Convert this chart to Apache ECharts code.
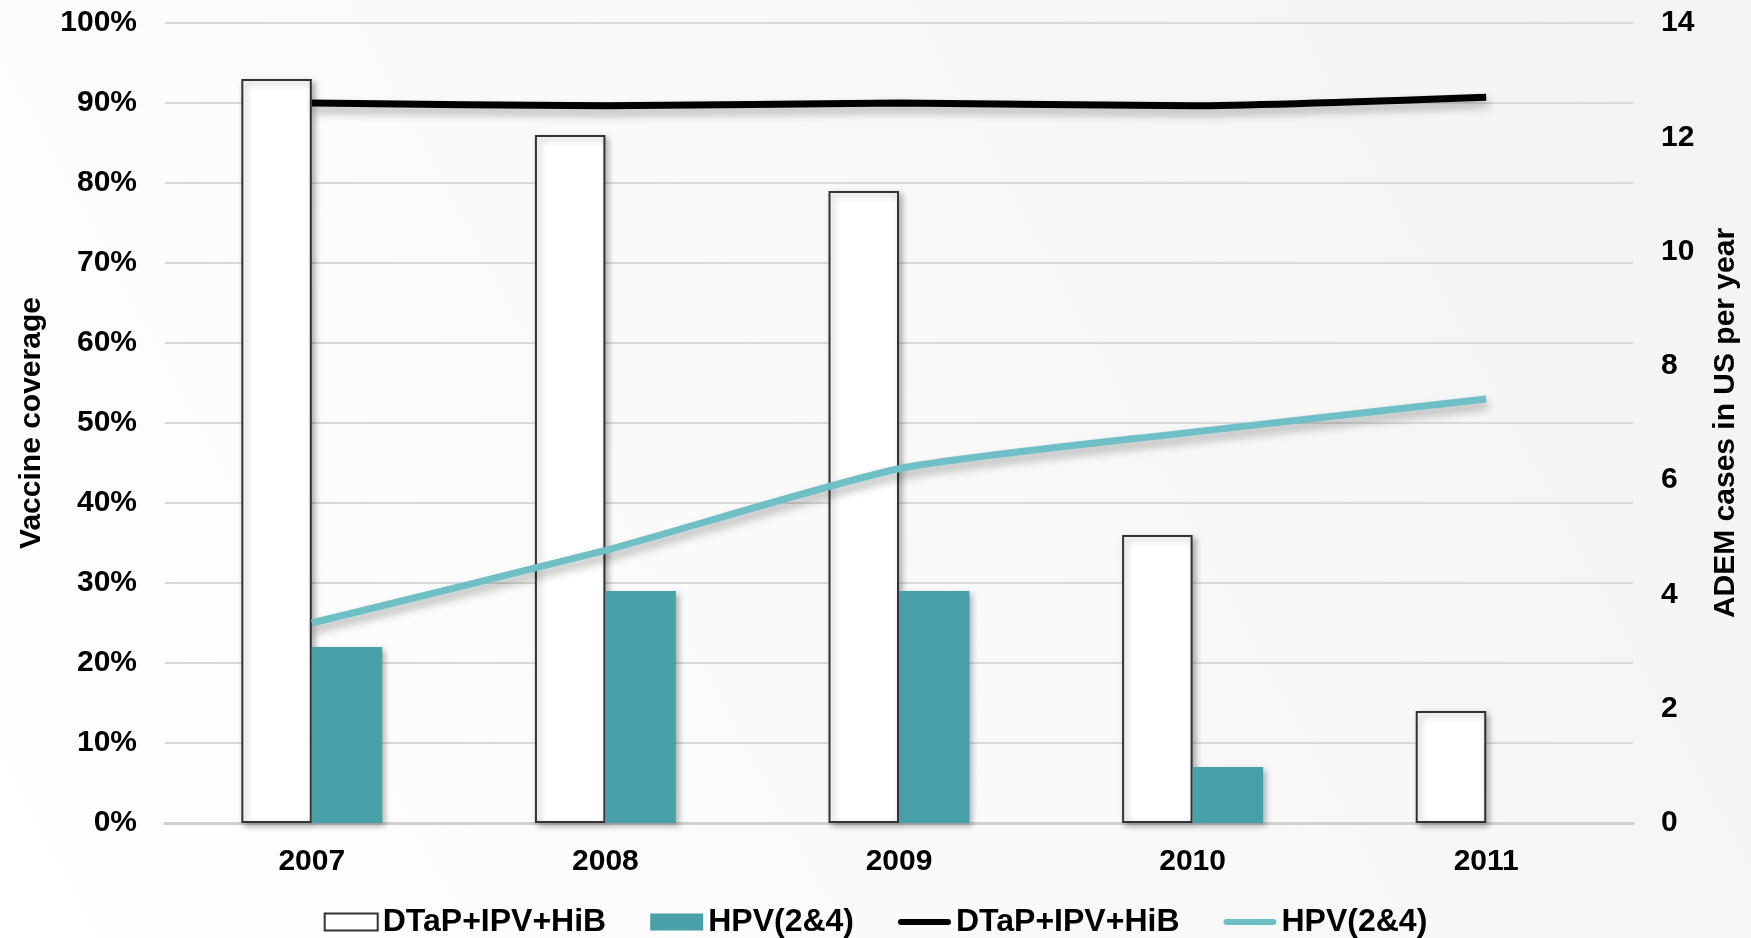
<!DOCTYPE html>
<html>
<head>
<meta charset="utf-8">
<script src="https://cdn.jsdelivr.net/npm/echarts@6/dist/echarts.min.js"></script>
<style>
  html, body { margin: 0; padding: 0; }
  #chart { width: 1751px; height: 938px; }
</style>
</head>
<body>
<div id="chart"></div>
<script>
// vaccine coverage (bars, %) and ADEM cases (lines, right axis)
var years = ['2007', '2008', '2009', '2010', '2011'];
var dtapCoverage = [93, 86, 79, 36, 14];
var hpvCoverage = [22, 29, 29, 7, 0];
var dtapCases = [12.6, 12.55, 12.6, 12.55, 12.7];
var hpvCases = [3.5, 4.77, 6.2, 6.84, 7.42];
var leftTicks = [0, 100, 10];
var rightTicks = [0, 14, 2];

var font = '"Liberation Sans", Arial, sans-serif';
var labelStyle = { color: '#000', fontSize: 30, fontWeight: 'bold', fontFamily: font };

var option = {
    backgroundColor: {
        type: 'linear', x: 0, y: 1, x2: 1, y2: 0,
        colorStops: [{ offset: 0, color: '#ffffff' }, { offset: 1, color: '#f3f3f3' }]
    },
    animation: false,
    grid: { left: 165, right: 118, top: 23, bottom: 115 },
    legend: {
        top: 901,
        left: 'center',
        itemWidth: 53,
        itemHeight: 17,
        itemGap: 44,
        textStyle: { color: '#000', fontSize: 32, fontWeight: 'bold', fontFamily: font },
        data: [
            { name: 'DTaP+IPV+HiB', icon: 'rect' },
            { name: 'HPV(2&4)', icon: 'rect' },
            { name: 'DTaP+IPV+HiB ', icon: 'path://M3,0 H50 A3,3 0 0 1 50,6 H3 A3,3 0 0 1 3,0 Z', itemStyle: { color: '#000', borderWidth: 0 } },
            { name: 'HPV(2&4) ', icon: 'path://M3,0 H50 A3,3 0 0 1 50,6 H3 A3,3 0 0 1 3,0 Z', itemStyle: { color: '#6fbfc6', borderWidth: 0 } }
        ],
        formatter: function (n) { return n.trim(); }
    },
    xAxis: {
        type: 'category',
        data: years,
        axisLine: { lineStyle: { color: '#cfcfcf', width: 3 } },
        axisTick: { show: false },
        axisLabel: Object.assign({ margin: 24 }, labelStyle)
    },
    yAxis: [
        {
            type: 'value',
            min: leftTicks[0], max: leftTicks[1], interval: leftTicks[2],
            name: 'Vaccine coverage',
            nameLocation: 'middle',
            nameGap: 118,
            nameTextStyle: labelStyle,
            axisLabel: Object.assign({ formatter: '{value}%', margin: 28 }, labelStyle),
            axisLine: { show: false },
            axisTick: { show: false },
            splitLine: { lineStyle: { color: '#d9d9d9', width: 2 } }
        },
        {
            type: 'value',
            min: rightTicks[0], max: rightTicks[1], interval: rightTicks[2],
            name: 'ADEM cases in US per year',
            nameLocation: 'middle',
            nameGap: 78,
            nameTextStyle: labelStyle,
            axisLabel: Object.assign({ margin: 28 }, labelStyle),
            axisLine: { show: false },
            axisTick: { show: false },
            splitLine: { show: false }
        }
    ],
    series: [
        {
            name: 'DTaP+IPV+HiB',
            type: 'bar',
            data: dtapCoverage,
            barWidth: '24%',
            barGap: '0%',
            itemStyle: {
                color: '#ffffff', borderColor: '#333', borderWidth: 2,
                shadowBlur: 6, shadowOffsetX: 3, shadowOffsetY: 3, shadowColor: 'rgba(0,0,0,0.3)'
            }
        },
        {
            name: 'HPV(2&4)',
            type: 'bar',
            data: hpvCoverage,
            barWidth: '24%',
            itemStyle: {
                color: '#48a0a8',
                shadowBlur: 6, shadowOffsetX: 3, shadowOffsetY: 3, shadowColor: 'rgba(0,0,0,0.3)'
            }
        },
        {
            name: 'DTaP+IPV+HiB ',
            type: 'line',
            yAxisIndex: 1,
            data: dtapCases,
            smooth: 0.2,
            symbol: 'none',
            z: 5,
            lineStyle: {
                color: '#000', width: 7,
                shadowBlur: 10, shadowOffsetY: 6, shadowOffsetX: 2, shadowColor: 'rgba(0,0,0,0.3)'
            },
            itemStyle: { color: '#000' }
        },
        {
            name: 'HPV(2&4) ',
            type: 'line',
            yAxisIndex: 1,
            data: hpvCases,
            smooth: 0.2,
            symbol: 'none',
            z: 5,
            lineStyle: {
                color: '#6fbfc6', width: 7,
                shadowBlur: 10, shadowOffsetY: 6, shadowOffsetX: 2, shadowColor: 'rgba(0,0,0,0.3)'
            },
            itemStyle: { color: '#6fbfc6' }
        }
    ]
};

var myChart = echarts.init(document.getElementById('chart'));
myChart.setOption(option);
</script>
</body>
</html>
